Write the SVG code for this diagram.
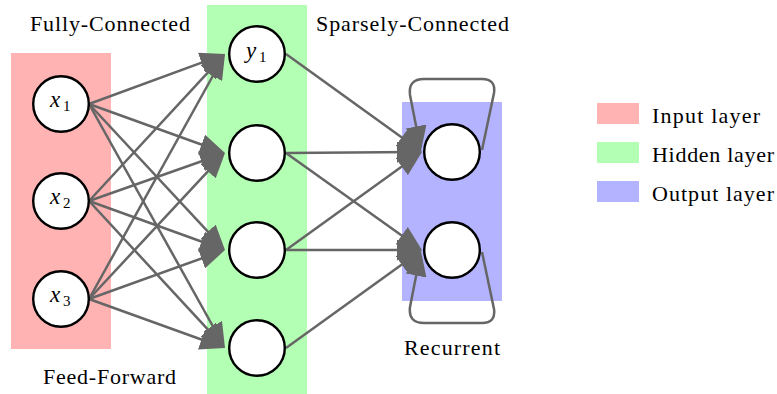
<svg xmlns="http://www.w3.org/2000/svg" width="777" height="394" viewBox="0 0 777 394">
<style>
.lbl{font-family:'Liberation Serif','Times New Roman',serif;font-size:22px;fill:#000}
.math{font-family:'Liberation Serif','Times New Roman',serif;font-style:italic;font-size:23px;fill:#000}
.sub{font-style:normal;font-size:15px}
.node{fill:#fff;stroke:#000;stroke-width:2.4}
.edge{fill:none;stroke:#666;stroke-width:2.5;marker-end:url(#ah)}
</style>
<defs>
<marker id="ah" markerUnits="userSpaceOnUse" markerWidth="25" markerHeight="21" refX="19" refY="10.5" orient="auto">
<path d="M0,0 L25,10.5 L0,21 z" fill="#666"/>
</marker>
</defs>
<g id="layers">
<rect x="11" y="53" width="100" height="296" fill="#ffb3b3"/>
<rect x="207" y="5" width="100" height="389" fill="#b3ffb3"/>
<rect x="402" y="102" width="100" height="199" fill="#b3b3ff"/>
</g>
<g id="connectors">
<path class="edge" d="M89,104 L219.37,56.07"/>
<path class="edge" d="M89,104 L219.36,150.97"/>
<path class="edge" d="M89,104 L220.91,245.61"/>
<path class="edge" d="M89,104 L222.08,342.76"/>
<path class="edge" d="M89,201 L220.93,58.40"/>
<path class="edge" d="M89,201 L219.34,155.00"/>
<path class="edge" d="M89,201 L219.36,247.97"/>
<path class="edge" d="M89,201 L220.93,343.60"/>
<path class="edge" d="M89,299 L222.09,59.25"/>
<path class="edge" d="M89,299 L220.91,157.39"/>
<path class="edge" d="M89,299 L219.36,252.03"/>
<path class="edge" d="M89,299 L219.36,345.97"/>
<path class="edge" d="M286,54 L417.13,148.49"/>
<path class="edge" d="M286,153 L416,152.04"/>
<path class="edge" d="M286,153 L417.12,246.52"/>
<path class="edge" d="M286,250 L417.13,155.51"/>
<path class="edge" d="M286,250 L416,250"/>
<path class="edge" d="M286,348 L417.13,253.51"/>
<path class="edge" d="M482,150 L494,93 Q496,79 482,79 L424,79 Q408,79 410,95 L419.8,145.1"/>
<path class="edge" d="M482,252 L494,309 Q496,323 482,323 L424,323 Q408,323 410,307 L419.8,256.9"/>
</g>
<g id="x1"><circle class="node" cx="61" cy="104" r="27.8"/><text class="math" x="50" y="107">x</text><text class="math sub" x="63" y="111">1</text></g>
<g id="x2"><circle class="node" cx="61" cy="201" r="27.8"/><text class="math" x="50" y="204">x</text><text class="math sub" x="63" y="208">2</text></g>
<g id="x3"><circle class="node" cx="61" cy="299" r="27.8"/><text class="math" x="50" y="302">x</text><text class="math sub" x="63" y="306">3</text></g>
<g id="h1"><circle class="node" cx="257" cy="54" r="27.8"/><text class="math" x="246" y="58">y</text><text class="math sub" x="259" y="62">1</text></g>
<g id="h2"><circle class="node" cx="257" cy="153" r="27.8"/></g>
<g id="h3"><circle class="node" cx="257" cy="250" r="27.8"/></g>
<g id="h4"><circle class="node" cx="257" cy="348" r="27.8"/></g>
<g id="o1"><circle class="node" cx="452" cy="152" r="27.8"/></g>
<g id="o2"><circle class="node" cx="452" cy="250" r="27.8"/></g>
<g id="labels">
<text class="lbl" x="30" y="31" textLength="160">Fully-Connected</text>
<text class="lbl" x="316" y="31" textLength="193">Sparsely-Connected</text>
<text class="lbl" x="43" y="384" textLength="133">Feed-Forward</text>
<text class="lbl" x="404" y="355" textLength="96">Recurrent</text>
</g>
<g id="legend">
<rect x="597" y="103" width="42" height="21" fill="#ffb3b3"/>
<rect x="597" y="142" width="42" height="21" fill="#b3ffb3"/>
<rect x="597" y="181" width="42" height="21" fill="#b3b3ff"/>
<text class="lbl" x="652" y="123" textLength="108">Input layer</text>
<text class="lbl" x="652" y="162" textLength="122">Hidden layer</text>
<text class="lbl" x="652" y="201" textLength="122">Output layer</text>
</g>
</svg>
